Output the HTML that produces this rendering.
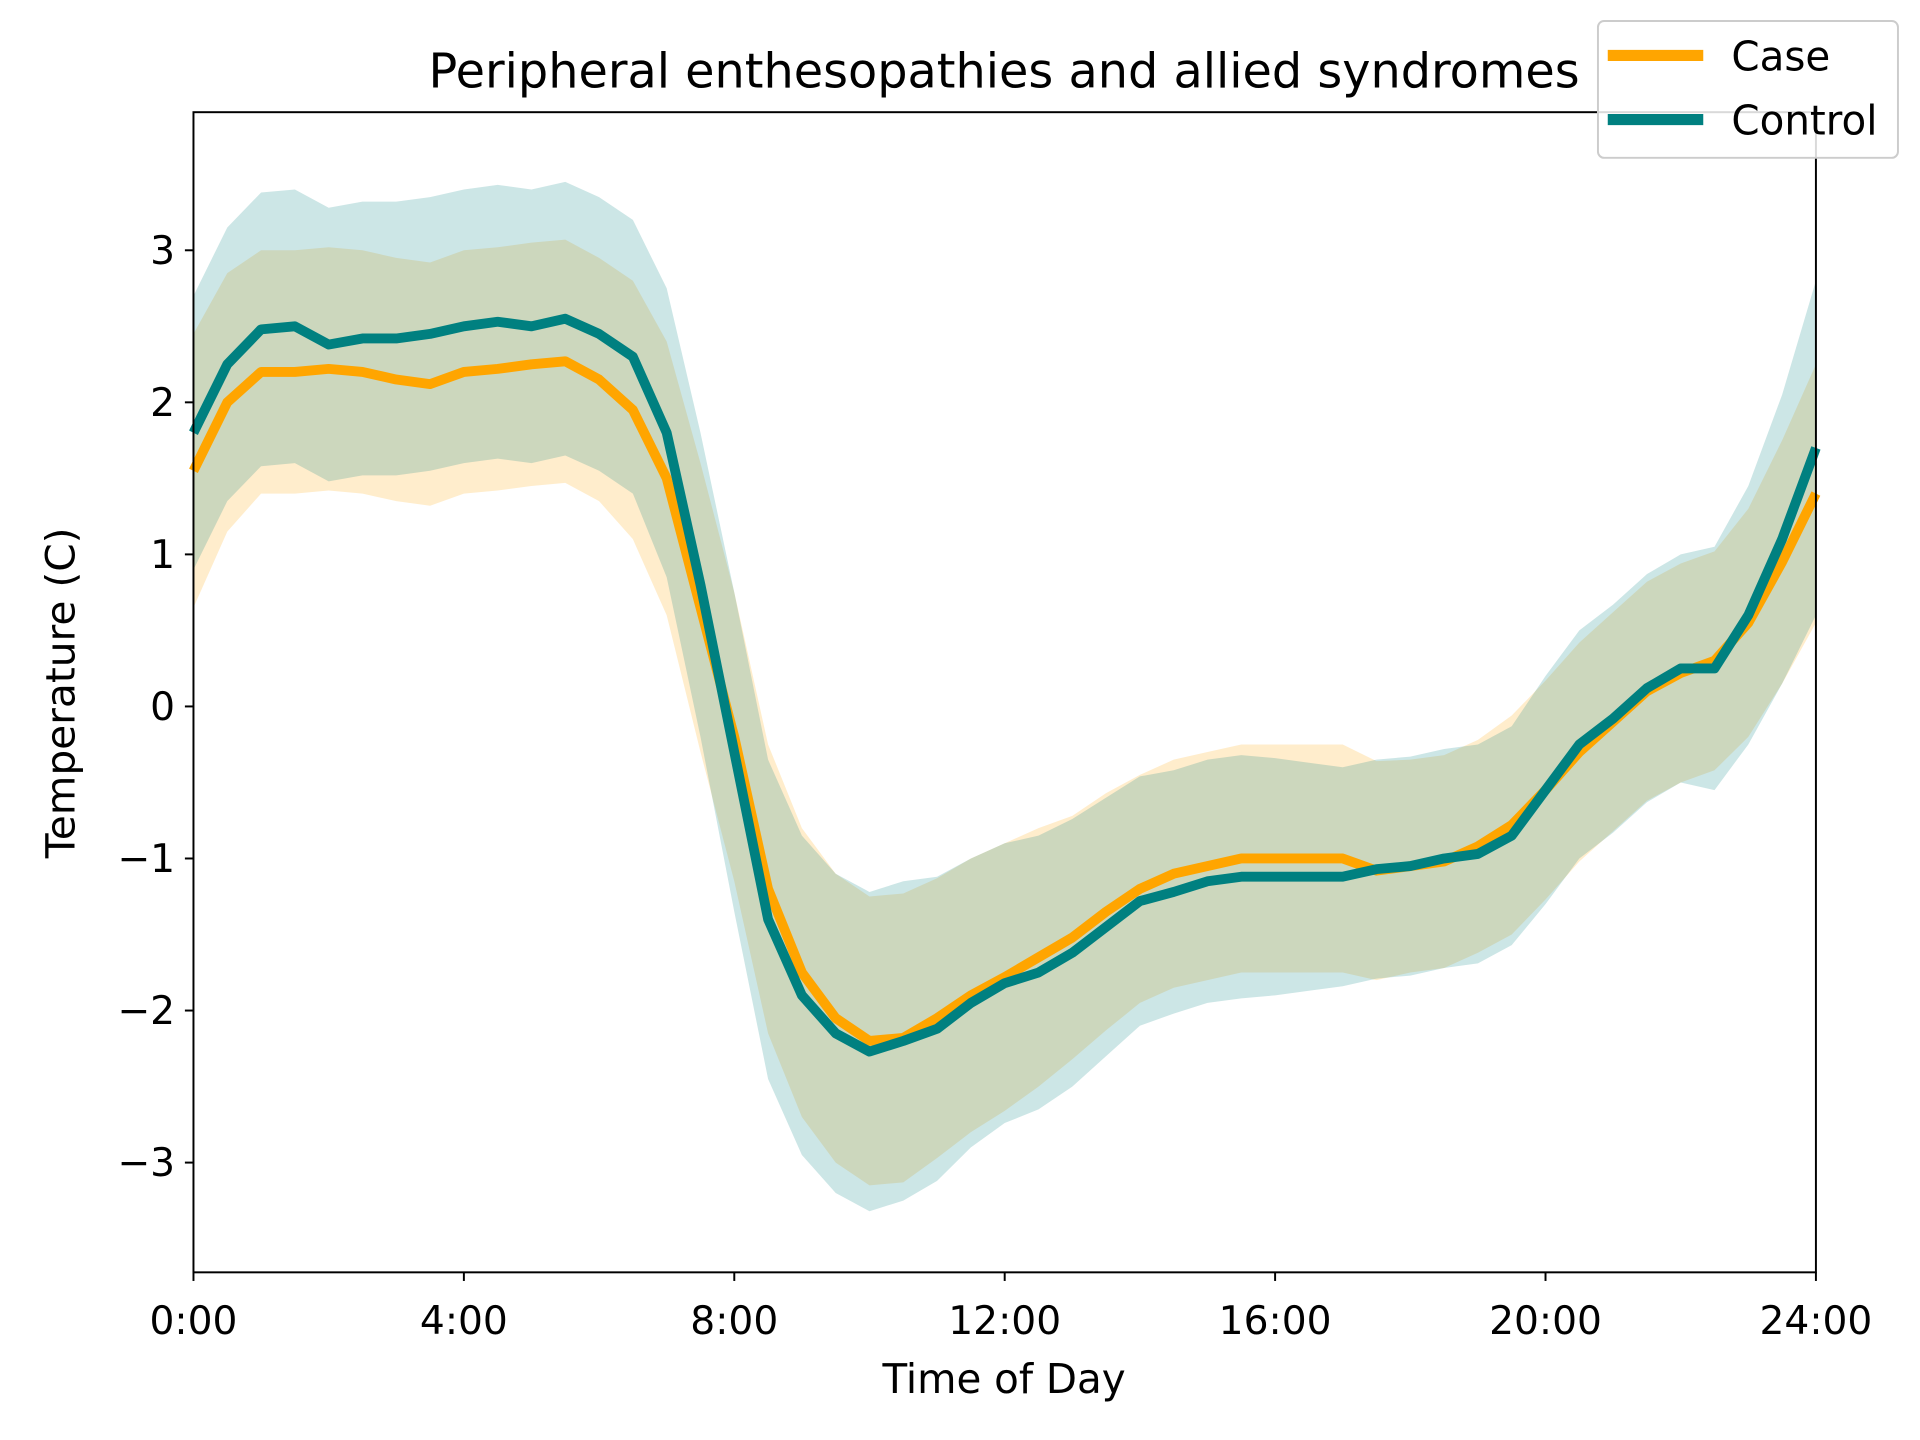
<!DOCTYPE html>
<html><head><meta charset="utf-8"><style>html,body{margin:0;padding:0;background:#fff}svg{display:block}text{font-family:"DejaVu Sans","Liberation Sans",sans-serif;fill:#000}</style></head>
<body>
<svg id="chart" width="1920" height="1440" viewBox="0 0 1568 1168" preserveAspectRatio="none" xmlns="http://www.w3.org/2000/svg">
<rect width="1568" height="1168" fill="#fff"/>
<g id="bands"></g><g id="lines"></g><g id="axes"></g>
</svg>
<script>
const hours=[0,0.5,1,1.5,2,2.5,3,3.5,4,4.5,5,5.5,6,6.5,7,7.5,8,8.5,9,9.5,10,10.5,11,11.5,12,12.5,13,13.5,14,14.5,15,15.5,16,16.5,17,17.5,18,18.5,19,19.5,20,20.5,21,21.5,22,22.5,23,23.5,24];
const caseMean=[1.55,2.0,2.2,2.2,2.22,2.2,2.15,2.12,2.2,2.22,2.25,2.27,2.15,1.95,1.5,0.65,-0.2,-1.2,-1.75,-2.05,-2.2,-2.18,-2.05,-1.9,-1.78,-1.65,-1.52,-1.35,-1.2,-1.1,-1.05,-1.0,-1.0,-1.0,-1.0,-1.08,-1.05,-1.02,-0.92,-0.78,-0.55,-0.3,-0.1,0.1,0.22,0.3,0.55,0.95,1.4];
const caseHalf=[0.9,0.85,0.8,0.8,0.8,0.8,0.8,0.8,0.8,0.8,0.8,0.8,0.8,0.85,0.9,0.95,0.95,0.95,0.95,0.95,0.95,0.95,0.92,0.9,0.88,0.85,0.8,0.78,0.75,0.75,0.75,0.75,0.75,0.75,0.75,0.72,0.7,0.7,0.7,0.72,0.72,0.72,0.72,0.72,0.72,0.72,0.75,0.8,0.85];
const ctrlMean=[1.8,2.25,2.48,2.5,2.38,2.42,2.42,2.45,2.5,2.53,2.5,2.55,2.45,2.3,1.8,0.8,-0.3,-1.4,-1.9,-2.15,-2.27,-2.2,-2.12,-1.95,-1.82,-1.75,-1.62,-1.45,-1.28,-1.22,-1.15,-1.12,-1.12,-1.12,-1.12,-1.07,-1.05,-1.0,-0.97,-0.85,-0.55,-0.25,-0.08,0.12,0.25,0.25,0.6,1.1,1.7];
const ctrlHalf=[0.9,0.9,0.9,0.9,0.9,0.9,0.9,0.9,0.9,0.9,0.9,0.9,0.9,0.9,0.95,1.0,1.05,1.05,1.05,1.05,1.05,1.05,1.0,0.95,0.92,0.9,0.88,0.85,0.82,0.8,0.8,0.8,0.78,0.75,0.72,0.72,0.72,0.72,0.72,0.72,0.75,0.75,0.75,0.75,0.75,0.8,0.85,0.95,1.1];
const xTicks=[0,4,8,12,16,20,24];
const xTickLabels=["0:00","4:00","8:00","12:00","16:00","20:00","24:00"];
const yTicks=[-3,-2,-1,0,1,2,3];
const yTickLabels=["\u22123","\u22122","\u22121","0","1","2","3"];
const L=158,R=1483,T=91,B=1032;
const xs=h=>L+(R-L)*h/24;
const ys=v=>573-123.33*v;
const NS="http://www.w3.org/2000/svg";
function mk(tag,attrs,parent){const e=document.createElementNS(NS,tag);for(const k in attrs)e.setAttribute(k,attrs[k]);parent.appendChild(e);return e;}
const bands=document.getElementById('bands'),lines=document.getElementById('lines'),axes=document.getElementById('axes');
function band(mean,half,color,name){
  let up=hours.map((h,i)=>xs(h)+','+ys(mean[i]+half[i]));
  let lo=hours.map((h,i)=>xs(h)+','+ys(mean[i]-half[i])).reverse();
  const p=mk('polygon',{points:up.concat(lo).join(' '),fill:color,'fill-opacity':0.2},bands);
  
  
}
function line(mean,color,name){
  const p=mk('polyline',{points:hours.map((h,i)=>xs(h)+','+ys(mean[i])).join(' '),fill:'none',stroke:color,'stroke-width':8,'stroke-linejoin':'round'},lines);
  
  
}
band(caseMean,caseHalf,'#FFA500','case-band');
band(ctrlMean,ctrlHalf,'#008080','control-band');
line(caseMean,'#FFA500','case-line');
line(ctrlMean,'#008080','control-line');
const frame=mk('rect',{x:L,y:T,width:R-L,height:B-T,fill:'none',stroke:'#000','stroke-width':1.6},axes);


xTicks.forEach((h,i)=>{
  mk('line',{x1:xs(h),x2:xs(h),y1:B,y2:B+7,stroke:'#000','stroke-width':1.6},axes);
  const t=mk('text',{x:xs(h),y:B+50,'font-size':32,'text-anchor':'middle'},axes);t.textContent=xTickLabels[i];
  
  
});
yTicks.forEach((v,i)=>{
  mk('line',{x1:L-7,x2:L,y1:ys(v),y2:ys(v),stroke:'#000','stroke-width':1.6},axes);
  const t=mk('text',{x:L-15,y:ys(v)+11,'font-size':32,'text-anchor':'end'},axes);t.textContent=yTickLabels[i];
  
  
});
let t=mk('text',{x:820,y:1130,'font-size':33,'text-anchor':'middle'},axes);t.textContent='Time of Day';


t=mk('text',{x:0,y:0,'font-size':33,'text-anchor':'middle',transform:'translate(61,562) rotate(-90)'},axes);t.textContent='Temperature (C)';


t=mk('text',{x:820,y:71,'font-size':39,'text-anchor':'middle'},axes);t.textContent='Peripheral enthesopathies and allied syndromes';


const lg=mk('g',{},axes);


mk('rect',{x:1305,y:17,width:245,height:111,rx:5,fill:'#fff','fill-opacity':0.85,stroke:'#ccc','stroke-width':1.6},lg);
mk('line',{x1:1313,x2:1391,y1:45,y2:45,stroke:'#FFA500','stroke-width':9},lg);
mk('line',{x1:1313,x2:1391,y1:97,y2:97,stroke:'#008080','stroke-width':9},lg);
t=mk('text',{x:1414,y:57,'font-size':33},lg);t.textContent='Case';


t=mk('text',{x:1414,y:109,'font-size':33},lg);t.textContent='Control';


</script>
</body></html>
